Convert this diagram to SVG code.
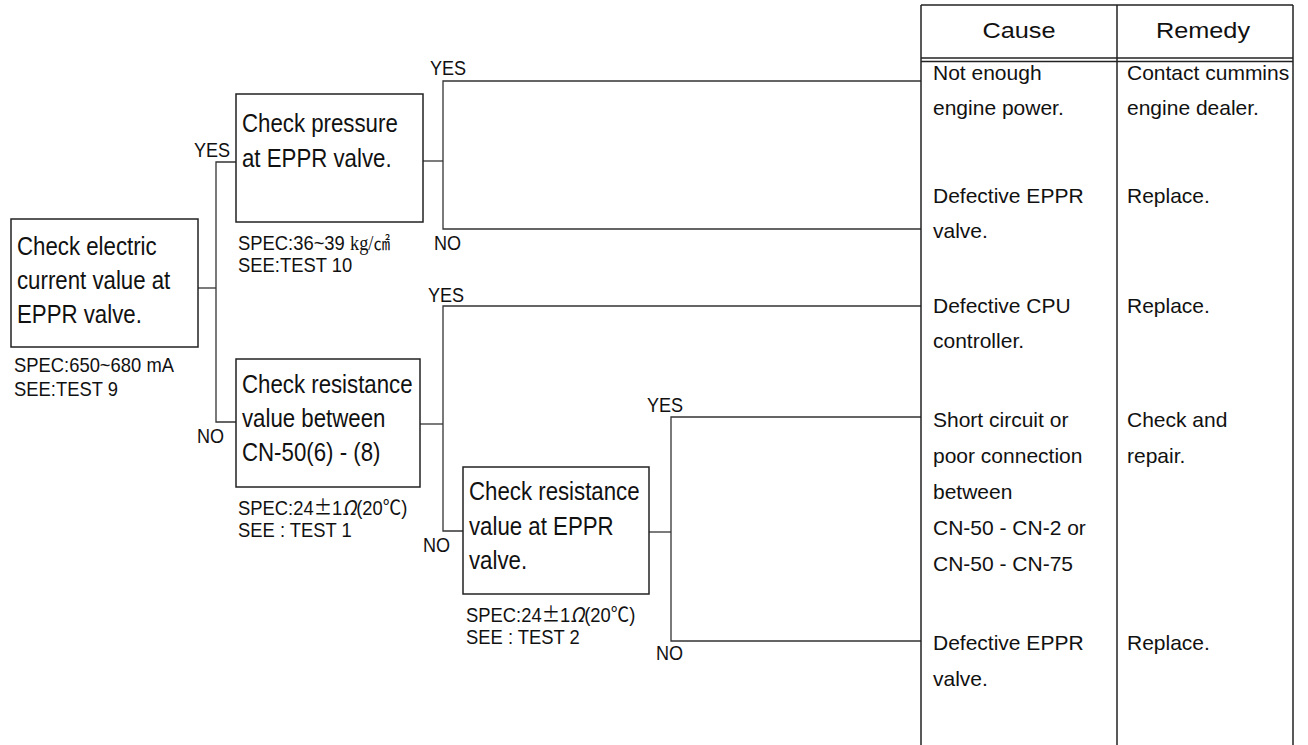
<svg xmlns="http://www.w3.org/2000/svg" width="1308" height="745" viewBox="0 0 1308 745">
  <style>
    .box { fill: #fff; stroke: #222; stroke-width: 1.5; }
    .wire { fill: none; stroke: #333; stroke-width: 1.3; }
    .rule { fill: none; stroke: #222; stroke-width: 1.5; }
    .t { font-family: "Liberation Sans", Arial, sans-serif; fill: #111; }
    .node { font-size: 25px; }
    .spec { font-size: 20px; }
    .lbl { font-size: 21px; }
    .cell { font-size: 21px; }
    .head { font-size: 22px; text-anchor: middle; }
    .cjk { font-family: "Noto Sans CJK KR", sans-serif; }
    .serif { font-family: "Liberation Serif", "Noto Sans CJK KR", serif; }
  </style>

  <!-- Branch wiring -->
  <g id="connectors">
    <!-- electric current box to its YES / NO split -->
    <polyline class="wire" points="198,288 216,288"/>
    <polyline class="wire" points="236,162 216,162 216,422 236,422"/>
    <!-- pressure box to cause rows -->
    <polyline class="wire" points="423,161 443,161"/>
    <polyline class="wire" points="921,81 443,81 443,229 921,229"/>
    <!-- resistance (CN-50) box split -->
    <polyline class="wire" points="420,424 443,424"/>
    <polyline class="wire" points="921,306 443,306 443,531 463,531"/>
    <!-- resistance (EPPR) box split -->
    <polyline class="wire" points="649,532 671,532"/>
    <polyline class="wire" points="921,417 671,417 671,641 921,641"/>
  </g>

  <!-- YES / NO branch labels (narrow face) -->
  <g class="t lbl" id="branch-labels">
    <text transform="translate(194 157) scale(0.86 1)">YES</text>
    <text transform="translate(197 443) scale(0.86 1)">NO</text>
    <text transform="translate(430 75) scale(0.86 1)">YES</text>
    <text transform="translate(434 250) scale(0.86 1)">NO</text>
    <text transform="translate(428 302) scale(0.86 1)">YES</text>
    <text transform="translate(423 552) scale(0.86 1)">NO</text>
    <text transform="translate(647 412) scale(0.86 1)">YES</text>
    <text transform="translate(656 660) scale(0.86 1)">NO</text>
  </g>

  <!-- Check electric current -->
  <g id="node-current">
    <rect class="box" x="11" y="219" width="187" height="128"/>
    <text class="t node" transform="translate(17 255) scale(0.89 1)">Check electric</text>
    <text class="t node" transform="translate(17 289) scale(0.89 1)">current value at</text>
    <text class="t node" transform="translate(17 323) scale(0.89 1)">EPPR valve.</text>
    <text class="t spec" transform="translate(14 372) scale(0.92 1)">SPEC:650~680 mA</text>
    <text class="t spec" transform="translate(14 396) scale(0.92 1)">SEE:TEST 9</text>
  </g>

  <!-- Check pressure -->
  <g id="node-pressure">
    <rect class="box" x="236" y="94" width="187" height="128"/>
    <text class="t node" transform="translate(242 132) scale(0.89 1)">Check pressure</text>
    <text class="t node" transform="translate(242 167) scale(0.89 1)">at EPPR valve.</text>
    <text class="t spec" transform="translate(238 250) scale(0.92 1)">SPEC:36~39 <tspan class="serif" font-size="20">kg/</tspan><tspan class="cjk" font-size="18">㎠</tspan></text>
    <text class="t spec" transform="translate(238 272) scale(0.92 1)">SEE:TEST 10</text>
  </g>

  <!-- Check resistance between CN-50 pins -->
  <g id="node-resistance-cn50">
    <rect class="box" x="236" y="359" width="184" height="128"/>
    <text class="t node" transform="translate(242 393) scale(0.89 1)">Check resistance</text>
    <text class="t node" transform="translate(242 427) scale(0.89 1)">value between</text>
    <text class="t node" transform="translate(242 461) scale(0.89 1)">CN-50(6) - (8)</text>
    <text class="t spec" transform="translate(238 515) scale(0.92 1)">SPEC:24<tspan class="cjk">±</tspan>1<tspan class="cjk" font-style="italic">Ω</tspan>(20<tspan class="cjk">℃</tspan>)</text>
    <text class="t spec" transform="translate(238 537) scale(0.92 1)">SEE : TEST 1</text>
  </g>

  <!-- Check resistance at EPPR valve -->
  <g id="node-resistance-eppr">
    <rect class="box" x="463" y="467" width="186" height="127"/>
    <text class="t node" transform="translate(469 500) scale(0.89 1)">Check resistance</text>
    <text class="t node" transform="translate(469 535) scale(0.89 1)">value at EPPR</text>
    <text class="t node" transform="translate(469 569) scale(0.89 1)">valve.</text>
    <text class="t spec" transform="translate(466 622) scale(0.92 1)">SPEC:24<tspan class="cjk">±</tspan>1<tspan class="cjk" font-style="italic">Ω</tspan>(20<tspan class="cjk">℃</tspan>)</text>
    <text class="t spec" transform="translate(466 644) scale(0.92 1)">SEE : TEST 2</text>
  </g>

  <!-- Cause / Remedy table -->
  <g id="table">
    <line class="rule" x1="921" y1="5" x2="1293" y2="5"/>
    <line class="rule" x1="921" y1="5" x2="921" y2="745"/>
    <line class="rule" x1="1117" y1="5" x2="1117" y2="745"/>
    <line class="rule" x1="1293" y1="5" x2="1293" y2="745"/>
    <line class="rule" x1="921" y1="58" x2="1293" y2="58" stroke-width="1.2"/>
    <line class="rule" x1="921" y1="61.5" x2="1293" y2="61.5" stroke-width="1.2"/>
    <text class="t head" transform="translate(1019 38) scale(1.15 1)">Cause</text>
    <text class="t head" transform="translate(1203 38) scale(1.15 1)">Remedy</text>
  </g>

  <g id="row-engine-power" class="t cell">
    <text x="933" y="80">Not enough</text>
    <text x="933" y="115">engine power.</text>
    <text x="1127" y="80">Contact cummins</text>
    <text x="1127" y="115">engine dealer.</text>
  </g>

  <g id="row-eppr-valve-1" class="t cell">
    <text x="933" y="203">Defective EPPR</text>
    <text x="933" y="238">valve.</text>
    <text x="1127" y="203">Replace.</text>
  </g>

  <g id="row-cpu" class="t cell">
    <text x="933" y="313">Defective CPU</text>
    <text x="933" y="348">controller.</text>
    <text x="1127" y="313">Replace.</text>
  </g>

  <g id="row-wiring" class="t cell">
    <text x="933" y="427">Short circuit or</text>
    <text x="933" y="463">poor connection</text>
    <text x="933" y="499">between</text>
    <text x="933" y="535">CN-50 - CN-2 or</text>
    <text x="933" y="571">CN-50 - CN-75</text>
    <text x="1127" y="427">Check and</text>
    <text x="1127" y="463">repair.</text>
  </g>

  <g id="row-eppr-valve-2" class="t cell">
    <text x="933" y="650">Defective EPPR</text>
    <text x="933" y="686">valve.</text>
    <text x="1127" y="650">Replace.</text>
  </g>
</svg>
